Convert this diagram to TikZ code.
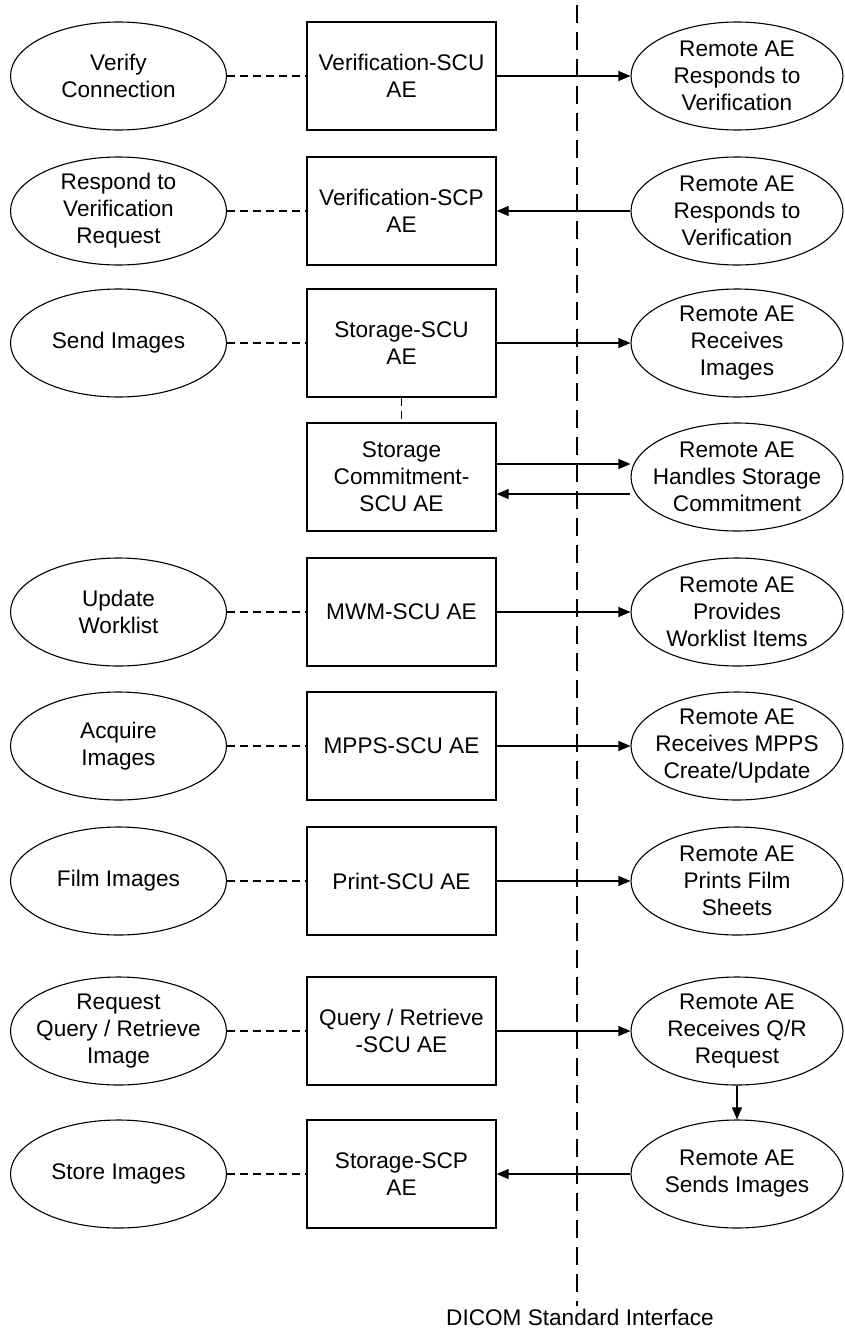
\documentclass[tikz,border=0pt]{standalone}
\usepackage{fontspec}
\setmainfont{Liberation Sans}
\usetikzlibrary{shapes.geometric,arrows.meta}
\begin{document}
\begin{tikzpicture}[x=1pt,y=-1pt,
  every node/.style={font=\fontsize{22.6pt}{27pt}\selectfont},
  lbl/.style={align=center,inner sep=0pt},
  ell/.style={draw,line width=1.1pt,ellipse,minimum width=212pt,minimum height=108pt,inner sep=0pt},
  box/.style={draw,line width=1.3pt,rectangle,minimum width=189pt,minimum height=108pt,inner sep=0pt,align=center},
  link/.style={line width=1.8pt,dash pattern=on 8pt off 5pt},
  flow/.style={line width=1.1pt,-{Triangle[length=12pt,width=10pt]}},
  divider/.style={line width=2.9pt,dash pattern=on 18pt off 9pt}]
\useasboundingbox (0,0) rectangle (844,1330);
% divider
\coordinate (dtop) at (577,5);
\coordinate (dbot) at (577,1306);
\draw[divider] (dtop) -- (dbot);
\node[lbl,anchor=base] (dicom) at (580,1325) {DICOM Standard Interface};
% left ellipses
\node[ell,minimum width=216pt,label={[lbl]center:{Verify\\Connection}}] (l1) at (118.5,76) {};
\node[ell,minimum width=216pt,label={[lbl]center:{Respond to\\Verification\\Request}}] (l2) at (118.5,211) {};
\node[ell,minimum width=216pt,label={[lbl]center:{Send Images}}] (l3) at (118.5,343) {};
\node[ell,minimum width=216pt,label={[lbl]center:{Update\\Worklist}}] (l5) at (118.5,612) {};
\node[ell,minimum width=216pt,label={[lbl]center:{Acquire\\Images}}] (l6) at (118.5,746) {};
\node[ell,minimum width=216pt,label={[lbl]center:{Film Images}}] (l7) at (118.5,881) {};
\node[ell,minimum width=216pt,label={[lbl]center:{Request\\Query / Retrieve\\Image}}] (l8) at (118.5,1031) {};
\node[ell,minimum width=216pt,label={[lbl]center:{Store Images}}] (l9) at (118.5,1174) {};
% boxes
\node[box] (b1) at (401.5,76) {Verification-SCU\\AE};
\node[box] (b2) at (401.5,211) {Verification-SCP\\AE};
\node[box] (b3) at (401.5,343) {Storage-SCU\\AE};
\node[box] (b4) at (401.5,477) {Storage\\Commitment-\\SCU AE};
\node[box] (b5) at (401.5,612) {MWM-SCU AE};
\node[box] (b6) at (401.5,746) {MPPS-SCU AE};
\node[box] (b7) at (401.5,881) {Print-SCU AE};
\node[box] (b8) at (401.5,1031) {Query / Retrieve\\-SCU AE};
\node[box] (b9) at (401.5,1174) {Storage-SCP\\AE};
% right ellipses
\node[ell,label={[lbl]center:{Remote AE\\Responds to\\Verification}}] (r1) at (737,76) {};
\node[ell,label={[lbl]center:{Remote AE\\Responds to\\Verification}}] (r2) at (737,211) {};
\node[ell,label={[lbl]center:{Remote AE\\Receives\\Images}}] (r3) at (737,343) {};
\node[ell,label={[lbl]center:{Remote AE\\Handles Storage\\Commitment}}] (r4) at (737,477) {};
\node[ell,label={[lbl]center:{Remote AE\\Provides\\Worklist Items}}] (r5) at (737,612) {};
\node[ell,label={[lbl]center:{Remote AE\\Receives MPPS\\Create/Update}}] (r6) at (737,746) {};
\node[ell,label={[lbl]center:{Remote AE\\Prints Film\\Sheets}}] (r7) at (737,881) {};
\node[ell,label={[lbl]center:{Remote AE\\Receives Q/R\\Request}}] (r8) at (737,1031) {};
\node[ell,label={[lbl]center:{Remote AE\\Sends Images}}] (r9) at (737,1174) {};
% dashed links
\foreach \i in {1,2,3,5,6,7,8,9} {\draw[link] (l\i.east) -- (b\i.west);}
\draw[link] (b3.south) -- (b4.north);
% flows
\draw[flow] (b1.east) -- (r1.west);
\draw[flow] (r2.west) -- (b2.east);
\draw[flow] (b3.east) -- (r3.west);
\draw[flow] ([yshift=13pt]b4.east) -- ([yshift=13pt]b4.east -| r4.west);
\draw[flow] ([yshift=-17pt]b4.east -| r4.west) -- ([yshift=-17pt]b4.east);
\draw[flow] (b5.east) -- (r5.west);
\draw[flow] (b6.east) -- (r6.west);
\draw[flow] (b7.east) -- (r7.west);
\draw[flow] (b8.east) -- (r8.west);
\draw[flow] (r8.south) -- (r9.north);
\draw[flow] (r9.west) -- (b9.east);
\end{tikzpicture}
\end{document}
